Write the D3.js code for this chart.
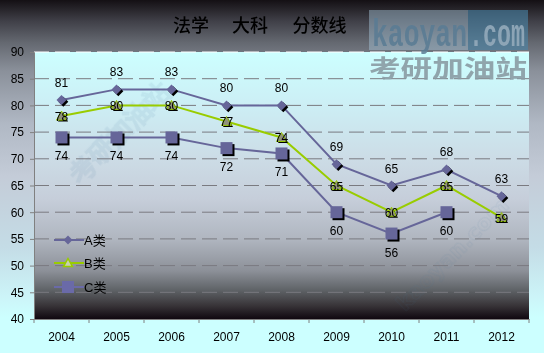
<!DOCTYPE html>
<html><head><meta charset="utf-8">
<script src="https://cdn.jsdelivr.net/npm/d3@7"></script>
<style>html,body{margin:0;padding:0;background:#fff}svg{display:block}</style>
</head><body>
<svg id="c" width="544" height="353"></svg>
<script>
const years = ["2004","2005","2006","2007","2008","2009","2010","2011","2012"];
const seriesA = [81,83,83,80,80,69,65,68,63];
const seriesB = [78,80,80,77,74,65,60,65,59];
const seriesC = [74,74,74,72,71,60,56,60,null];
const yTicks = [40,45,50,55,60,65,70,75,80,85,90];
const titleParts = ["法学","大科","分数线"];
const legendNames = ["A类","B类","C类"];

const W=544,H=353;
const m={left:34,top:52,right:544-529,bottom:353-319};
const svg=d3.select("#c");
const defs=svg.append("defs");
const og=defs.append("linearGradient").attr("id","og").attr("x1",0).attr("y1",0).attr("x2",0).attr("y2",1);
[[0,"#141014"],[0.06,"#404048"],[0.12,"#646870"],[0.2,"#8a909a"],[0.35,"#b0b8c4"],[0.5,"#c4ccd8"],[0.7,"#c4dce6"],[0.84,"#ccf4f8"],[0.9,"#ccffff"],[1,"#ccffff"]]
 .forEach(s=>og.append("stop").attr("offset",s[0]).attr("stop-color",s[1]));
const pg=defs.append("linearGradient").attr("id","pg").attr("x1",0).attr("y1",0).attr("x2",0).attr("y2",1);
[[0,"#ccffff"],[0.18,"#ccf0f6"],[0.4,"#ccdce6"],[0.55,"#c6ceda"],[0.7,"#b0b6c0"],[0.82,"#8c9098"],[0.89,"#606468"],[0.95,"#383438"],[1,"#100810"]]
 .forEach(s=>pg.append("stop").attr("offset",s[0]).attr("stop-color",s[1]));

svg.append("rect").attr("width",W).attr("height",H).attr("fill","url(#og)");

const x=d3.scaleBand().domain(years).range([m.left,W-m.right]);
const y=d3.scaleLinear().domain([40,90]).range([H-m.bottom,m.top]);

svg.append("rect").attr("x",m.left).attr("y",m.top).attr("width",x.range()[1]-m.left).attr("height",y(40)-y(90)).attr("fill","url(#pg)");

// faint diagonal watermarks
const wm=svg.append("g").attr("opacity",0.1).attr("font-family","DejaVu Sans, sans-serif").attr("font-weight","bold").attr("fill","none").attr("stroke","#4a7aa0").attr("stroke-width",1);
wm.append("text").attr("transform","translate(80,185) rotate(-45)").attr("font-size",26).text("考研加油站");
wm.append("text").attr("transform","translate(405,312) rotate(-45)").attr("font-size",22).text("kaoyan.com");

// gridlines
const grid=svg.append("g");
grid.selectAll("line").data(yTicks.filter(v=>v>40)).join("line")
 .attr("x1",m.left).attr("x2",x.range()[1]).attr("y1",d=>y(d)).attr("y2",d=>y(d))
 .attr("stroke",d=>d===90?"#ffffff":"#7a7a80").attr("stroke-width",1).attr("stroke-dasharray","15,6");

// axes
const yAxis=svg.append("g").attr("transform",`translate(${m.left},0)`)
 .call(d3.axisLeft(y).tickValues(yTicks).tickSize(4).tickPadding(6));
yAxis.select(".domain").attr("stroke","#808080");
yAxis.selectAll(".tick line").attr("stroke","#808080");
yAxis.selectAll("text").attr("font-family","Liberation Sans, Arial, sans-serif").attr("font-size",12).attr("fill","#000");

const xAxis=svg.append("g").attr("transform",`translate(0,${y(40)})`)
 .call(d3.axisBottom(x).tickSize(0).tickPadding(13));
xAxis.select(".domain").attr("stroke","#808080");
xAxis.selectAll("text").attr("font-family","Liberation Sans, Arial, sans-serif").attr("font-size",12).attr("fill","#000");
xAxis.selectAll(".bnd").data(d3.range(years.length+1)).join("line")
 .attr("x1",i=>m.left+i*x.bandwidth()).attr("x2",i=>m.left+i*x.bandwidth())
 .attr("y1",0).attr("y2",4).attr("stroke","#808080");

const cx=i=>x(years[i])+x.bandwidth()/2;
const line=d3.line().defined(d=>d.v!=null).x(d=>cx(d.i)).y(d=>y(d.v));
const toPts=arr=>arr.map((v,i)=>({v,i}));

const purple="#666699", green="#99cc00";
svg.append("path").datum(toPts(seriesA)).attr("d",line).attr("fill","none").attr("stroke",purple).attr("stroke-width",2);
svg.append("path").datum(toPts(seriesB)).attr("d",line).attr("fill","none").attr("stroke",green).attr("stroke-width",2);
svg.append("path").datum(toPts(seriesC)).attr("d",line).attr("fill","none").attr("stroke",purple).attr("stroke-width",2);

const diamond=(px,py,r)=>`M${px},${py-r}L${px+r},${py}L${px},${py+r}L${px-r},${py}Z`;
const tri=(px,py,r)=>`M${px},${py-r}L${px+r},${py+r*0.8}L${px-r},${py+r*0.8}Z`;

const gA=svg.append("g"), gB=svg.append("g"), gC=svg.append("g");
toPts(seriesA).forEach(d=>{
  const px=cx(d.i), py=y(d.v);
  gA.append("path").attr("d",diamond(px+1.8,py+1.8,5)).attr("fill","#000");
  gA.append("path").attr("d",diamond(px,py,5)).attr("fill",purple);
});
toPts(seriesB).forEach(d=>{
  const px=cx(d.i), py=y(d.v);
  gB.append("path").attr("d",tri(px+1.5,py+1.5,5)).attr("fill","#000");
  gB.append("path").attr("d",tri(px,py,5)).attr("fill","#8f907c").attr("stroke",green).attr("stroke-width",1);
});
toPts(seriesC).filter(d=>d.v!=null).forEach(d=>{
  const px=cx(d.i), py=y(d.v);
  gC.append("rect").attr("x",px-6+2).attr("y",py-6+2).attr("width",12).attr("height",12).attr("fill","#000");
  gC.append("rect").attr("x",px-6).attr("y",py-6).attr("width",12).attr("height",12).attr("fill",purple);
});

const lab=svg.append("g").attr("font-family","Liberation Sans, Arial, sans-serif").attr("font-size",12).attr("fill","#000").attr("text-anchor","middle");
toPts(seriesA).forEach(d=>lab.append("text").attr("x",cx(d.i)).attr("y",y(d.v)-13).text(d.v));
toPts(seriesB).forEach(d=>lab.append("text").attr("x",cx(d.i)).attr("y",y(d.v)+5).text(d.v));
toPts(seriesC).filter(d=>d.v!=null).forEach(d=>lab.append("text").attr("x",cx(d.i)).attr("y",y(d.v)+23).text(d.v));

// legend
const lg=svg.append("g");
const ly=[240,263,287];
legendNames.forEach((n,i)=>{
  const yy=ly[i];
  lg.append("line").attr("x1",54).attr("x2",84).attr("y1",yy).attr("y2",yy).attr("stroke",i===1?green:(i===2?"#6a6aa8":purple)).attr("stroke-width",2);
  if(i===0) lg.append("path").attr("d",diamond(68,yy,4.5)).attr("fill",purple);
  if(i===1) lg.append("path").attr("d",tri(68,yy,4.5)).attr("fill","#c8d0b0").attr("stroke",green).attr("stroke-width",1.5);
  if(i===2) lg.append("rect").attr("x",62).attr("y",yy-6).attr("width",12).attr("height",12).attr("fill","#6a6aa8");
  lg.append("text").attr("x",84).attr("y",yy+5).attr("font-family","Liberation Sans, Noto Sans CJK SC, sans-serif").attr("font-size",13).attr("fill","#000").text(n);
});

// title
const tx=[191,250,319.5];
titleParts.forEach((t,i)=>svg.append("text").attr("x",tx[i]).attr("y",32).attr("text-anchor","middle")
 .attr("font-family","Noto Sans CJK SC, sans-serif").attr("font-size",18).attr("font-weight",500).attr("fill","#000").text(t));

// kaoyan.com watermark box
svg.append("rect").attr("x",369).attr("y",10).attr("width",99).attr("height",40).attr("fill","#a8c8dc").attr("opacity",0.45);
svg.append("rect").attr("x",468).attr("y",10).attr("width",60).attr("height",40).attr("fill","#4a86a8").attr("opacity",0.6);
svg.append("text").attr("x",372).attr("y",46).attr("textLength",95).attr("lengthAdjust","spacingAndGlyphs")
 .attr("font-family","Liberation Mono, DejaVu Sans Mono, monospace").attr("font-weight","bold").attr("font-size",38).attr("fill","#5a7c94").attr("opacity",0.85).text("kaoyan");
svg.append("text").attr("x",469).attr("y",46).attr("textLength",56).attr("lengthAdjust","spacingAndGlyphs")
 .attr("font-family","Liberation Mono, DejaVu Sans Mono, monospace").attr("font-weight","bold").attr("font-size",38).attr("fill","#94aabb").attr("opacity",0.9).text(".com");
svg.append("text").attr("x",369).attr("y",77).attr("textLength",158).attr("lengthAdjust","spacingAndGlyphs")
 .attr("font-family","Noto Sans CJK SC, sans-serif").attr("font-weight","bold").attr("font-size",24).attr("fill","#8a9ca4").attr("opacity",0.9).text("考研加油站");
</script>
</body></html>
